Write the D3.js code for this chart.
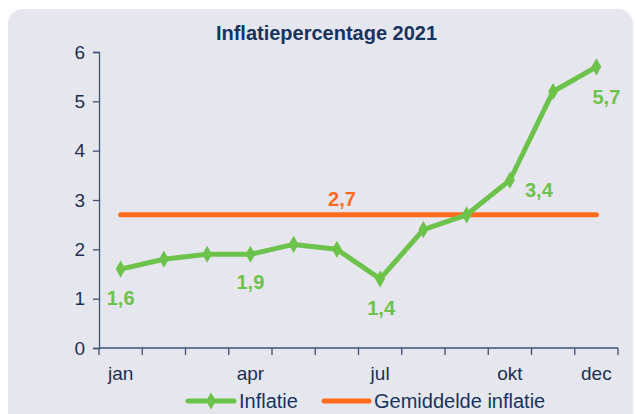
<!DOCTYPE html>
<html>
<head>
<meta charset="utf-8">
<script src="https://cdn.jsdelivr.net/npm/d3@7"></script>
<style>
  html, body { margin: 0; padding: 0; background: #ffffff; }
  svg { display: block; font-family: "Liberation Sans", Arial, sans-serif; }
  .axis path, .axis line { stroke: #3a5272; stroke-width: 1.3; }
  .axis text { fill: #1b2f52; font-size: 19px; }
</style>
</head>
<body>
<div id="chart"></div>
<script>
// -- Data ----------------------------------------------------
const months = ["jan", "feb", "mrt", "apr", "mei", "jun", "jul", "aug", "sep", "okt", "nov", "dec"];
const inflatie = [1.6, 1.8, 1.9, 1.9, 2.1, 2.0, 1.4, 2.4, 2.7, 3.4, 5.2, 5.7];
const gemiddelde = 2.7;
const shownMonthLabels = ["jan", "apr", "jul", "okt", "dec"];
const labelledMonths = ["jan", "apr", "jul", "okt", "dec"];
const yTicks = [0, 1, 2, 3, 4, 5, 6];

const GREEN = "#6cc24a";
const ORANGE = "#ff6a1f";
const NAVY = "#17335e";

const width = 635, height = 414;
const margin = { left: 99, right: 17, top: 52, bottom: 66 };

const svg = d3.select("#chart").append("svg")
  .attr("width", width)
  .attr("height", height);

// Panel background (bottom corners fall outside the picture)
svg.append("rect")
  .attr("x", 8).attr("y", 9)
  .attr("width", 625).attr("height", 430)
  .attr("rx", 15)
  .attr("fill", "#e6e7ee");

const x = d3.scaleBand()
  .domain(months)
  .range([margin.left, width - margin.right]);

const y = d3.scaleLinear()
  .domain([0, 6])
  .range([height - margin.bottom, margin.top]);

const cx = (m) => x(m) + x.bandwidth() / 2;
const fmt = (v) => d3.format(".1f")(v).replace(".", ",");

// Title
svg.append("text")
  .attr("x", 326.5).attr("y", 40)
  .attr("text-anchor", "middle")
  .attr("font-size", 20).attr("font-weight", "bold")
  .attr("fill", NAVY)
  .text("Inflatiepercentage 2021");

// -- Axes ----------------------------------------------------
svg.append("g")
  .attr("class", "axis")
  .attr("transform", `translate(${margin.left},0)`)
  .call(d3.axisLeft(y).tickValues(yTicks).tickSize(6).tickPadding(8).tickFormat(d3.format("d")));

// x-axis: ticks on band edges, labels only for some months
const xAxis = svg.append("g")
  .attr("class", "axis")
  .attr("transform", `translate(0,${height - margin.bottom})`);

xAxis.append("line")
  .attr("x1", margin.left).attr("x2", width - margin.right);

const edges = months.map((m) => x(m)).concat([x(months[months.length - 1]) + x.bandwidth()]);
xAxis.selectAll("line.tick")
  .data(edges)
  .join("line")
  .attr("class", "tick")
  .attr("x1", (d) => d).attr("x2", (d) => d)
  .attr("y1", 0).attr("y2", 7);

xAxis.selectAll("text")
  .data(shownMonthLabels)
  .join("text")
  .attr("x", (d) => cx(d))
  .attr("y", 32)
  .attr("text-anchor", "middle")
  .text((d) => d);

// -- Average line --------------------------------------------
svg.append("line")
  .attr("x1", cx(months[0])).attr("x2", cx(months[months.length - 1]))
  .attr("y1", y(gemiddelde)).attr("y2", y(gemiddelde))
  .attr("stroke", ORANGE).attr("stroke-width", 5).attr("stroke-linecap", "round");

svg.append("text")
  .attr("x", 342).attr("y", y(gemiddelde) - 8.5)
  .attr("text-anchor", "middle")
  .attr("font-size", 20).attr("font-weight", "bold")
  .attr("fill", ORANGE)
  .text(fmt(gemiddelde));

// -- Inflation series ----------------------------------------
const points = months.map((m, i) => ({ month: m, value: inflatie[i] }));

svg.append("path")
  .datum(points)
  .attr("fill", "none")
  .attr("stroke", GREEN).attr("stroke-width", 5).attr("stroke-linejoin", "round")
  .attr("d", d3.line().x((d) => cx(d.month)).y((d) => y(d.value)));

const diamond = d3.symbol().type(d3.symbolDiamond).size(85);
svg.selectAll("path.marker")
  .data(points)
  .join("path")
  .attr("class", "marker")
  .attr("transform", (d) => `translate(${cx(d.month)},${y(d.value)})`)
  .attr("fill", GREEN)
  .attr("d", diamond);

// Value labels
const labelOffset = { jan: [0, 36], apr: [0, 35], jul: [1, 36], okt: [29, 17], dec: [10, 37] };
svg.selectAll("text.val")
  .data(points.filter((d) => labelledMonths.includes(d.month)))
  .join("text")
  .attr("class", "val")
  .attr("x", (d) => cx(d.month) + labelOffset[d.month][0])
  .attr("y", (d) => y(d.value) + labelOffset[d.month][1])
  .attr("text-anchor", "middle")
  .attr("font-size", 20).attr("font-weight", "bold")
  .attr("fill", GREEN)
  .text((d) => fmt(d.value));

// -- Legend --------------------------------------------------
const legend = svg.append("g").attr("transform", "translate(0,401)");

legend.append("line")
  .attr("x1", 188).attr("x2", 234)
  .attr("stroke", GREEN).attr("stroke-width", 5).attr("stroke-linecap", "round");
legend.append("path")
  .attr("transform", "translate(211,0)")
  .attr("fill", GREEN)
  .attr("d", diamond);
legend.append("text")
  .attr("x", 239).attr("y", 7)
  .attr("font-size", 20).attr("fill", NAVY)
  .text("Inflatie");

legend.append("line")
  .attr("x1", 324).attr("x2", 369)
  .attr("stroke", ORANGE).attr("stroke-width", 5).attr("stroke-linecap", "round");
legend.append("text")
  .attr("x", 374).attr("y", 7)
  .attr("font-size", 20).attr("fill", NAVY)
  .text("Gemiddelde inflatie");
</script>
</body>
</html>
